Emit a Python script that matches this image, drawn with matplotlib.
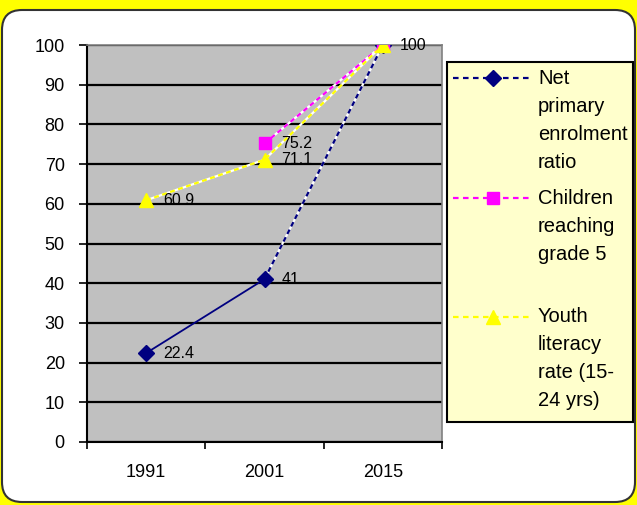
import numpy as np
import matplotlib
matplotlib.use('Agg')
import matplotlib.pyplot as plt
from matplotlib.patches import FancyBboxPatch, Rectangle
from matplotlib.lines import Line2D

plt.rcParams['font.family'] = ['Liberation Sans', 'DejaVu Sans']

# data
years = ['1991', '2001', '2015']
net_enrol = [22.4, 41, 100]
grade5 = [np.nan, 75.2, 100]
youth_lit = [60.9, 71.1, 100]
series_names = ['Net\nprimary\nenrolment\nratio',
                'Children\nreaching\ngrade 5',
                'Youth\nliteracy\nrate (15-\n24 yrs)']
series_colors = ['#000080', '#ff00ff', '#ffff00']
series_markers = [('D', 8), ('s', 9), ('^', 10)]

W, H = 637, 505
x = np.arange(len(years))

fig = plt.figure(figsize=(W / 100, H / 100), dpi=100, facecolor='#ffff00')
# white rounded panel
panel = FancyBboxPatch((0.02, 0.03), 6.33, 4.92,
                       boxstyle='round,pad=0,rounding_size=0.2',
                       transform=fig.dpi_scale_trans,
                       fc='white', ec='#333333', lw=1.5, zorder=0)
fig.add_artist(panel)

ax = fig.add_axes([87 / W, 1 - 442 / H, 355 / W, 397 / H])
ax.set_facecolor('#c0c0c0')
ax.set_xlim(-0.5, 2.5)
ax.set_ylim(0, 100)
ax.set_yticks(np.arange(0, 101, 10))
ax.yaxis.grid(True, color='black', lw=1.6)
ax.set_axisbelow(True)
ax.set_xticks([-0.5, 0.5, 1.5, 2.5])
ax.set_xticklabels([])
ax.set_xticks(x, minor=True)
ax.set_xticklabels(years, minor=True)
ax.tick_params(axis='x', which='major', length=5, width=1.2, color='black')
ax.tick_params(axis='x', which='minor', length=0, pad=16, labelsize=13)
ax.tick_params(axis='y', length=6, width=1.2, labelsize=13, pad=10)
for s in ['left', 'bottom']:
    ax.spines[s].set_color('black')
    ax.spines[s].set_linewidth(1.5)
for s in ['top', 'right']:
    ax.spines[s].set_color('#808080')
    ax.spines[s].set_linewidth(1.2)

dash = (0, (2.2, 1.6))

# net primary enrolment: solid then dashed
ax.plot(x[:2], net_enrol[:2], color=series_colors[0], lw=1.3, zorder=3)
ax.plot(x[1:], net_enrol[1:], color='white', lw=1.6, zorder=3)
ax.plot(x[1:], net_enrol[1:], color=series_colors[0], lw=1.6, ls=dash, zorder=3)

# children reaching grade 5, youth literacy: dashed
for vals, c in [(grade5, series_colors[1]), (youth_lit, series_colors[2])]:
    ax.plot(x, vals, color='white', lw=1.6, zorder=3)
    ax.plot(x, vals, color=c, lw=1.6, ls=dash, zorder=3)

for vals, c, (m, ms) in zip([net_enrol, grade5, youth_lit], series_colors, series_markers):
    ax.plot(x, vals, ls='none', marker=m, ms=ms, color=c, zorder=4)

# data labels
labels = [(net_enrol, [0, 1]), (grade5, [1]), (youth_lit, [0, 1, 2])]
for vals, idx in labels:
    for i in idx:
        ax.annotate(f'{vals[i]:g}', (x[i], vals[i]), xytext=(17, 0),
                    textcoords='offset pixels', ha='left', va='center',
                    fontsize=11.5, zorder=5)

# legend box drawn by hand (Excel style: marker level with first text line)
fig.add_artist(Rectangle((447 / W, 1 - 422 / H), 186 / W, 360 / H,
                         transform=fig.transFigure, fc='#ffffcc',
                         ec='black', lw=1.5, zorder=1))
entry_top = [78, 198, 317]
line_step = 28
for name, c, (m, ms), y0 in zip(series_names, series_colors, series_markers, entry_top):
    yf = 1 - y0 / H
    fig.add_artist(Line2D([453 / W, 532 / W], [yf, yf], transform=fig.transFigure,
                          color=c, lw=1.6, ls=(0, (2.5, 2)), zorder=2))
    fig.add_artist(Line2D([493 / W], [yf], transform=fig.transFigure,
                          color=c, marker=m, ms=ms, ls='none', zorder=3))
    for k, line in enumerate(name.split('\n')):
        fig.text(538 / W, 1 - (y0 + k * line_step) / H, line, fontsize=14.5,
                 ha='left', va='center', zorder=3)

fig.savefig('out.png', dpi=100, facecolor=fig.get_facecolor())
